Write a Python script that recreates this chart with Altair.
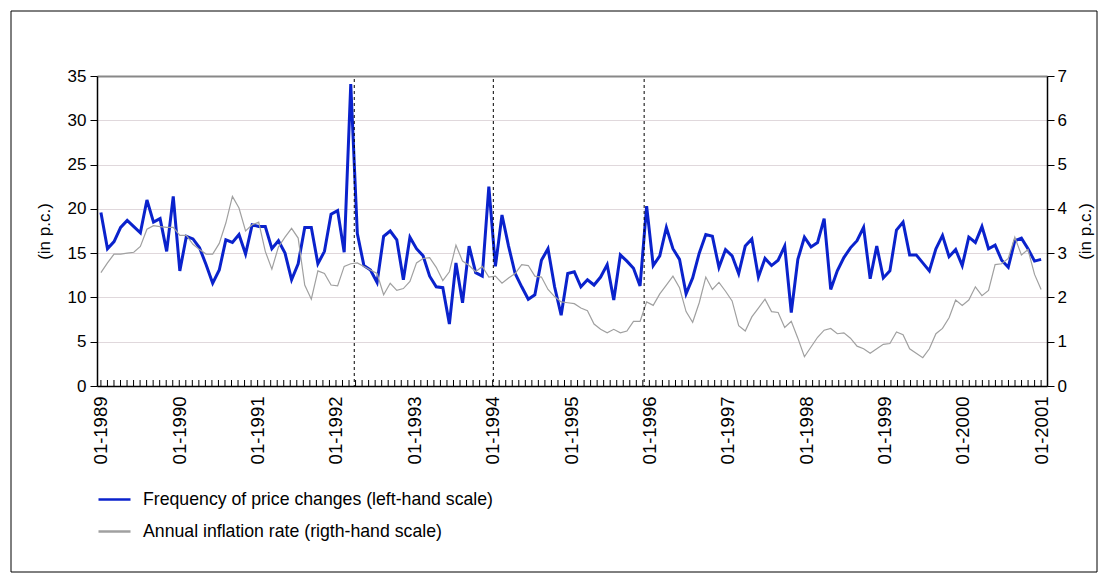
import altair as alt
import pandas as pd

# Monthly frequency of price changes (left-hand scale, %), from 01-1989
freq = [19.6, 15.5, 16.3, 17.9, 18.7, 18.0, 17.3, 21.0, 18.5, 18.9, 15.2, 21.4,
        13.0, 16.9, 16.6, 15.6, 13.7, 11.6, 13.1, 16.5, 16.2, 17.1, 14.9, 18.2,
        18.0, 18.0, 15.5, 16.4, 15.0, 12.0, 13.8, 17.9, 17.9, 13.8, 15.2, 19.4,
        19.8, 15.1, 34.1, 17.2, 13.6, 13.1, 11.7, 16.9, 17.5, 16.5, 12.0, 16.8,
        15.5, 14.7, 12.4, 11.2, 11.1, 7.0, 13.9, 9.4, 15.8, 12.8, 12.4, 22.5,
        13.5, 19.3, 15.8, 12.7, 11.2, 9.8, 10.3, 14.2, 15.5, 11.2, 8.0, 12.7,
        12.9, 11.2, 12.0, 11.4, 12.3, 13.7, 9.7, 14.8, 14.1, 13.3, 11.3, 20.3,
        13.6, 14.7, 17.9, 15.5, 14.3, 10.4, 12.2, 15.0, 17.1, 16.9, 13.4, 15.4,
        14.7, 12.7, 15.8, 16.6, 12.3, 14.4, 13.6, 14.2, 15.8, 8.3, 14.3, 16.8,
        15.7, 16.2, 18.9, 10.9, 13.0, 14.5, 15.6, 16.4, 17.9, 12.1, 15.8, 12.2,
        13.0, 17.6, 18.5, 14.8, 14.8, 13.9, 13.0, 15.5, 17.0, 14.6, 15.4, 13.6,
        16.8, 16.2, 18.0, 15.5, 15.9, 14.2, 13.4, 16.4, 16.7, 15.5, 14.1, 14.3]

# Annual inflation rate (right-hand scale, %)
infl = [2.56, 2.78, 2.98, 2.98, 3.00, 3.02, 3.15, 3.54, 3.62, 3.60, 3.58, 3.58,
        3.40, 3.40, 3.20, 3.08, 2.98, 2.98, 3.22, 3.68, 4.28, 4.02, 3.50, 3.64,
        3.70, 3.04, 2.64, 3.14, 3.36, 3.56, 3.34, 2.28, 1.96, 2.60, 2.54, 2.28,
        2.26, 2.70, 2.76, 2.78, 2.70, 2.62, 2.54, 2.06, 2.32, 2.16, 2.20, 2.36,
        2.78, 2.88, 2.90, 2.68, 2.38, 2.58, 3.18, 2.82, 2.72, 2.58, 2.70, 2.46,
        2.48, 2.32, 2.44, 2.54, 2.74, 2.72, 2.48, 2.46, 2.18, 2.02, 1.90, 1.88,
        1.86, 1.76, 1.70, 1.40, 1.28, 1.20, 1.28, 1.20, 1.24, 1.46, 1.46, 1.90,
        1.82, 2.08, 2.28, 2.48, 2.22, 1.68, 1.44, 1.88, 2.46, 2.18, 2.34, 2.14,
        1.92, 1.36, 1.24, 1.56, 1.76, 1.96, 1.68, 1.66, 1.32, 1.46, 1.08, 0.66,
        0.88, 1.10, 1.26, 1.30, 1.18, 1.20, 1.08, 0.90, 0.84, 0.74, 0.84, 0.94,
        0.96, 1.22, 1.16, 0.84, 0.74, 0.64, 0.84, 1.18, 1.30, 1.54, 1.94, 1.82,
        1.94, 2.24, 2.04, 2.16, 2.74, 2.76, 2.88, 3.36, 2.96, 3.08, 2.52, 2.18]

series_names = ["Frequency of price changes (left-hand scale)",
                "Annual inflation rate (rigth-hand scale)"]
series_colors = ["#0a22cc", "#a0a0a0"]
label_months = list(range(0, 145, 12))       # 01-1989 ... 01-2001
tick_months = list(range(0, 145))
event_months = [38.8, 60.1, 83.2]             # dashed vertical markers
left_ticks = [0, 5, 10, 15, 20, 25, 30, 35]
right_ticks = [0, 1, 2, 3, 4, 5, 6, 7]

FONT = "Liberation Sans"
FS = 17

# the series is spread over the whole 01-1989 .. 01-2001 span of the axis
n = len(freq)
pos = [i * 144 / (n - 1) for i in range(n)]
df_f = pd.DataFrame({"m": pos, "v": freq, "series": series_names[0]})
df_i = pd.DataFrame({"m": pos, "v": infl, "series": series_names[1]})

xscale = alt.Scale(domain=[-0.6, 144.9], nice=False, zero=False)
color = alt.Color("series:N",
                  scale=alt.Scale(domain=series_names, range=series_colors),
                  legend=alt.Legend(title=None, orient="none", legendX=0, legendY=406,
                                    symbolType="stroke", symbolSize=1024,
                                    symbolStrokeWidth=2.5, labelOffset=11,
                                    labelFontSize=17.7, labelFont=FONT,
                                    labelColor="black", rowPadding=5,
                                    padding=0, labelLimit=600))

x_axis = alt.Axis(values=label_months, labelExpr="'01-' + (1989 + round(datum.value / 12))",
                  labelAngle=270, labelFont=FONT, labelFontSize=18.5, labelColor="black",
                  labelPadding=10, ticks=False, domainColor="black", domainWidth=1.5,
                  grid=False, title=None, labelOverlap=False, labelBound=False,
                  labelFlush=False)

xenc = alt.X("m:Q", scale=xscale, axis=x_axis)

left = alt.Chart(df_f).mark_line(strokeWidth=3).encode(
    x=xenc,
    y=alt.Y("v:Q", scale=alt.Scale(domain=[0, 35], nice=False),
            axis=alt.Axis(values=left_ticks, title="(in p.c.)", titleFont=FONT,
                          titleFontSize=FS, titleFontWeight="normal", titleColor="black",
                          titlePadding=14, labelFont=FONT, labelFontSize=FS,
                          labelColor="black", tickSize=7, tickColor="black",
                          domainColor="black", domainWidth=1.5, labelPadding=4,
                          grid=True,
                          gridColor=alt.condition("datum.value == 35", alt.value("#888888"),
                                                  alt.value("#e0d8dc")),
                          gridWidth=alt.condition("datum.value == 35", alt.value(2),
                                                  alt.value(1.2)))),
    color=color,
)

right = alt.Chart(df_i).mark_line(strokeWidth=1.2).encode(
    x=xenc,
    y=alt.Y("v:Q", scale=alt.Scale(domain=[0, 7], nice=False),
            axis=alt.Axis(orient="right", values=right_ticks, title="(in p.c.)",
                          titleFont=FONT, titleFontSize=FS, titleFontWeight="normal",
                          titleColor="black", titleAngle=270, titleX=38, titleY=155,
                          titleAlign="center", titleBaseline="middle",
                          labelFont=FONT, labelFontSize=FS, labelColor="black",
                          tickSize=7, tickColor="black", domainColor="black",
                          domainWidth=1.5, labelPadding=3, grid=False)),
    color=color,
)

events = alt.Chart(pd.DataFrame({"m": event_months})).mark_rule(
    color="black", strokeDash=[3, 3], strokeWidth=1).encode(
    x=xenc, y=alt.value(3), y2=alt.value(310))

ticks = alt.Chart(pd.DataFrame({"m": tick_months})).mark_rule(
    color="black", strokeWidth=1).encode(
    x=xenc, y=alt.value(310), y2=alt.value(304))

frame = alt.Chart(pd.DataFrame({"a": [0]})).mark_rect(
    fill="transparent", stroke="black", strokeWidth=1).encode(
    x=alt.value(-86), x2=alt.value(1000), y=alt.value(-65), y2=alt.value(496))

chart = alt.layer(frame, left, right, ticks, events).resolve_scale(
    y="independent"
).properties(
    width=950, height=310,
    autosize=alt.AutoSizeParams(type="none"),
    padding={"left": 89, "top": 68, "right": 53, "bottom": 189},
    background="white",
).configure_view(stroke=None)

chart.save("out.html", embed_options={"renderer": "svg", "actions": False})
